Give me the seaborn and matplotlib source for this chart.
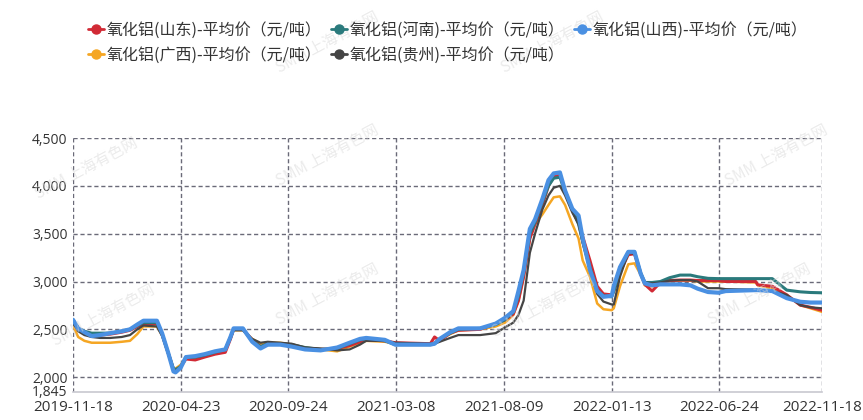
import numpy as np
import pandas as pd
import seaborn as sns
import matplotlib
matplotlib.use("Agg")
import matplotlib.pyplot as plt
import matplotlib.transforms as mtransforms
from matplotlib.lines import Line2D
from matplotlib.ticker import FuncFormatter

# Trading-day position of each sampled quote
day = [0, 5, 11, 18, 26, 36, 47, 55, 62, 68, 81, 86, 92, 97, 99, 104, 109, 118, 127, 137,
       147, 152, 155, 164, 173, 181, 188, 200, 211, 224, 239, 255, 267, 277, 283, 301, 311,
       345, 349, 354, 364, 372, 393, 408, 417, 425, 430, 435, 441, 446, 453, 459, 464, 470,
       475, 482, 488, 492, 499, 506, 512, 520, 522, 528, 536, 542, 548, 552, 559, 567, 576,
       586, 596, 603, 613, 623, 630, 659, 661, 675, 689, 702, 712, 723]

shandong = [2580, 2500, 2470, 2440, 2440, 2450, 2470, 2490, 2530, 2560, 2560, 2450, 2250, 2080, 2060, 2110, 2190, 2180, 2210, 2240,
            2260, 2400, 2500, 2500, 2390, 2320, 2340, 2350, 2330, 2300, 2290, 2300, 2330, 2370, 2390, 2380, 2360,
            2350, 2420, 2380, 2460, 2490, 2500, 2560, 2600, 2660, 2800, 3050, 3450, 3600, 3800, 4000, 4100, 4110,
            3950, 3750, 3620, 3470, 3220, 2950, 2870, 2860, 2900, 3100, 3280, 3290, 3080, 2970, 2900, 2990, 3010,
            3015, 3015, 3010, 3010, 3010, 3000, 3000, 2965, 2950, 2860, 2753, 2730, 2700]
henan = [2600, 2510, 2480, 2460, 2460, 2460, 2480, 2500, 2540, 2570, 2570, 2450, 2250, 2090, 2080, 2110, 2210, 2210, 2230, 2260,
         2290, 2420, 2500, 2500, 2380, 2320, 2350, 2350, 2340, 2310, 2290, 2300, 2350, 2390, 2400, 2380, 2340,
         2340, 2350, 2400, 2460, 2500, 2510, 2550, 2600, 2680, 2850, 3100, 3500, 3620, 3830, 4000, 4080, 4090,
         3930, 3750, 3600, 3420, 3150, 2910, 2850, 2840, 2900, 3100, 3300, 3310, 3090, 2990, 2990, 3000, 3040,
         3067, 3067, 3050, 3033, 3030, 3030, 3030, 3030, 3030, 2910, 2892, 2885, 2882]
shanxi = [2600, 2510, 2470, 2430, 2440, 2460, 2480, 2500, 2550, 2590, 2590, 2460, 2250, 2060, 2050, 2100, 2210, 2220, 2240, 2270,
          2290, 2420, 2510, 2510, 2370, 2300, 2340, 2340, 2320, 2290, 2280, 2310, 2360, 2400, 2410, 2390, 2340,
          2340, 2350, 2400, 2470, 2510, 2510, 2560, 2620, 2690, 2900, 3120, 3550, 3650, 3860, 4060, 4130, 4140,
          3950, 3760, 3690, 3450, 3120, 2900, 2840, 2850, 2950, 3150, 3310, 3310, 3080, 2980, 2960, 2970, 2970,
          2970, 2960, 2925, 2890, 2883, 2900, 2910, 2910, 2900, 2826, 2788, 2780, 2780]
guangxi = [2540, 2420, 2380, 2360, 2360, 2360, 2370, 2380, 2450, 2530, 2530, 2440, 2250, 2080, 2090, 2130, 2200, 2200, 2220, 2260,
           2280, 2410, 2490, 2490, 2400, 2350, 2360, 2360, 2340, 2310, 2290, 2270, 2320, 2360, 2380, 2370, 2350,
           2350, 2360, 2390, 2450, 2490, 2500, 2530, 2570, 2650, 2800, 3050, 3450, 3600, 3700, 3800, 3880, 3890,
           3800, 3600, 3450, 3220, 3050, 2770, 2710, 2700, 2720, 2950, 3180, 3190, 3070, 2960, 2950, 2980, 3000,
           3010, 3010, 3000, 3000, 3000, 3000, 2990, 2960, 2930, 2860, 2753, 2720, 2683]
guizhou = [2560, 2480, 2440, 2420, 2410, 2410, 2420, 2440, 2500, 2540, 2530, 2430, 2240, 2060, 2070, 2100, 2210, 2210, 2230, 2270,
           2290, 2400, 2490, 2490, 2400, 2360, 2370, 2360, 2350, 2310, 2300, 2280, 2290, 2340, 2380, 2380, 2360,
           2350, 2350, 2370, 2410, 2440, 2440, 2460, 2520, 2570, 2650, 2800, 3300, 3500, 3750, 3900, 3980, 4000,
           3900, 3720, 3600, 3400, 3120, 2870, 2790, 2760, 2760, 3050, 3300, 3290, 3080, 2990, 2980, 2990, 3010,
           3015, 3015, 3000, 2930, 2930, 2920, 2915, 2910, 2900, 2860, 2753, 2730, 2720]

tick_days = [0, 104, 208, 312, 416, 520, 624, 723]
tick_labels = ["2019-11-18", "2020-04-23", "2020-09-24", "2021-03-08",
               "2021-08-09", "2022-01-13", "2022-06-24", "2022-11-18"]
y_ticks = [1845, 2000, 2500, 3000, 3500, 4000, 4500]

names = ["氧化铝(山东)-平均价（元/吨）", "氧化铝(河南)-平均价（元/吨）", "氧化铝(山西)-平均价（元/吨）",
         "氧化铝(广西)-平均价（元/吨）", "氧化铝(贵州)-平均价（元/吨）"]
colors = ["#d12a35", "#2a7a7c", "#4a90e2", "#f5a623", "#454545"]
widths = [2.2, 2.2, 3.0, 1.8, 1.6]
series = [shandong, henan, shanxi, guangxi, guizhou]

df = pd.concat([pd.DataFrame({"day": day, "price": vals, "region": n})
                for n, vals in zip(names, series)], ignore_index=True)

sns.set_theme(style="white")
plt.rcParams["font.family"] = ["Noto Sans CJK SC", "DejaVu Sans"]

fig = plt.figure(figsize=(8.63, 4.2), dpi=100)
fig.patch.set_facecolor("white")
ax = fig.add_axes([73 / 863, 28 / 420, 749 / 863, 254 / 420])

draw_order = [3, 0, 1, 4, 2]
for z, i in enumerate(draw_order):
    sns.lineplot(data=df[df["region"] == names[i]], x="day", y="price", ax=ax,
                 color=colors[i], linewidth=widths[i], legend=False, zorder=3 + z)

ax.set_xlim(0, 723)
ax.set_ylim(1845, 4500)
ax.set_xticks(tick_days)
ax.set_xticklabels(tick_labels)
ax.set_yticks(y_ticks)
ax.yaxis.set_major_formatter(FuncFormatter(lambda v, p: f"{int(v):,}"))
ax.set_xlabel("")
ax.set_ylabel("")
ax.tick_params(axis="y", length=0, labelsize=10, labelcolor="#333333", pad=4)
ax.tick_params(axis="x", length=0, labelsize=11, labelcolor="#333333", pad=6)
for lab in ax.get_xticklabels() + ax.get_yticklabels():
    lab.set_fontfamily(["Open Sans", "DejaVu Sans"])

# lift the axis-minimum label a touch so it clears the date labels
low_lab = ax.yaxis.get_major_ticks()[0].label1
low_lab.set_transform(low_lab.get_transform() +
                      mtransforms.ScaledTranslation(0, 1.5 / 100, fig.dpi_scale_trans))

grid_kw = dict(color="#6a6a78", linewidth=1.0, linestyle=(0, (3, 2)), zorder=1)
for yv in y_ticks[1:]:
    ax.axhline(yv, **grid_kw)
for xv in tick_days:
    ax.axvline(xv, **grid_kw)

for s in ["top", "right", "left"]:
    ax.spines[s].set_visible(False)
ax.spines["bottom"].set_color("#c8c8d0")
ax.spines["bottom"].set_linewidth(1.2)

# Faint publisher watermarks
for (wx, wy) in [(0.38, 0.90), (0.64, 0.90), (0.10, 0.60), (0.38, 0.63),
                 (0.90, 0.63), (0.12, 0.25), (0.38, 0.30), (0.63, 0.27), (0.88, 0.30)]:
    fig.text(wx, wy, "SMM 上海有色网", color="#d8d8d8", alpha=0.5, fontsize=11,
             rotation=28, ha="center", va="center", zorder=0)

order = [0, 3, 1, 4, 2]
handles = [Line2D([0], [0], color=colors[i], linewidth=2, marker="o", markersize=6.5) for i in order]
labels = [names[i] for i in order]
leg = fig.legend(handles, labels, loc="upper left", bbox_to_anchor=(82 / 863, 1 - 15 / 420),
                 ncol=3, frameon=False, fontsize=11.5, handlelength=1.0,
                 handletextpad=0.15, columnspacing=0.6, labelspacing=0.5, borderaxespad=0)
for t in leg.get_texts():
    t.set_color("#333333")

fig.savefig("out.png", dpi=100)
